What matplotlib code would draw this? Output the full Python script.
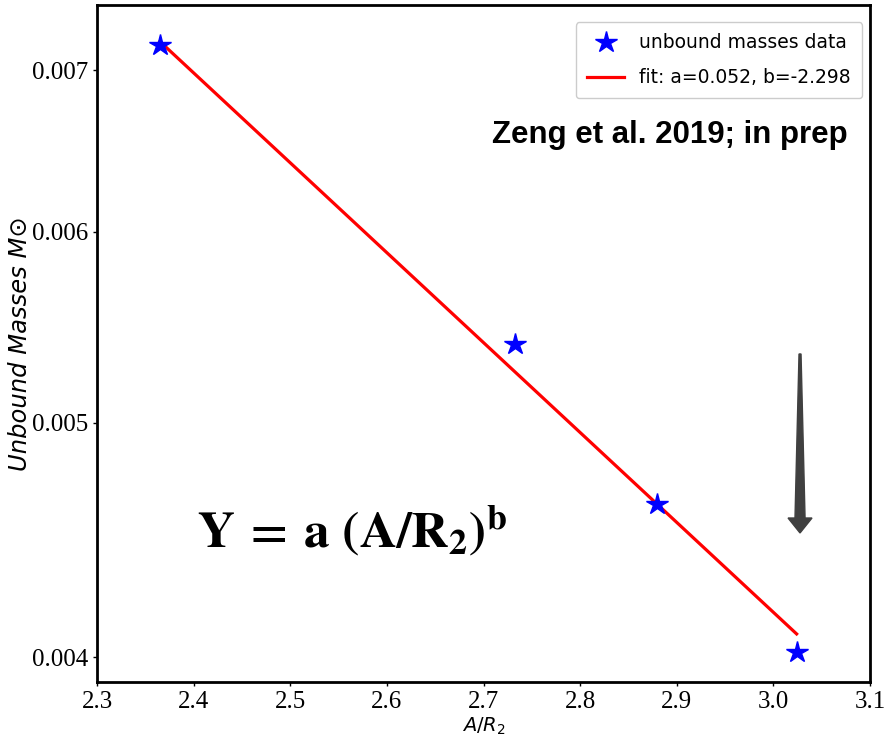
import numpy as np
import matplotlib
matplotlib.use("Agg")
from matplotlib import pyplot as plt
from matplotlib.patches import Polygon

# data
ratio = [2.365, 2.733, 2.880, 3.024]          # A/R2
unbound = [0.007169, 0.00539, 0.004628, 0.004019]  # unbound masses (Msun)
fit_a = 0.052
fit_b = -2.298
xticks = [2.3, 2.4, 2.5, 2.6, 2.7, 2.8, 2.9, 3.0, 3.1]
yticks = [0.004, 0.005, 0.006, 0.007]

x = np.array(ratio)
y = np.array(unbound)
# fit drawn between the end points only (straight segment, like the original)
x_line = np.array([ratio[0], ratio[-1]])
y_line = fit_a * x_line ** fit_b

fig = plt.figure(figsize=(8.87, 7.45), dpi=100)
ax = fig.add_axes([0.1094, 0.0846, 0.8715, 0.9087])

ax.plot(x, y, '*', color='blue', markersize=16, label='unbound masses data', zorder=3)
ax.plot(x_line, y_line, '-', color='red', linewidth=2.3,
        label=f'fit: a={fit_a:.3f}, b={fit_b:.3f}', zorder=2)

ax.set_yscale('log')
ax.set_xlim(2.3, 3.1)
ax.set_ylim(0.003906, 0.007448)
ax.set_xticks(xticks)
ax.set_xticklabels([f'{t:.1f}' for t in xticks], family='Liberation Serif', fontsize=18)
ax.set_yticks(yticks)
ax.set_yticklabels([f'{t:.3f}' for t in yticks], family='Liberation Serif', fontsize=18)
ax.yaxis.set_minor_locator(matplotlib.ticker.NullLocator())
ax.tick_params(length=3, width=1)
for s in ax.spines.values():
    s.set_linewidth(2)

ax.set_xlabel('$A/R_2$', fontsize=14, labelpad=2)
ax.set_ylabel('Unbound Masses M\u2299', fontsize=17.5, style='italic', labelpad=0)

ax.legend(loc='upper right', bbox_to_anchor=(0.99, 0.975), borderaxespad=0,
          fontsize=13.5, borderpad=0.6, labelspacing=0.85, handlelength=2,
          framealpha=1)

# annotations pasted on the original figure
ax.text(0.9715, 0.796, 'Zeng et al. 2019; in prep', transform=ax.transAxes,
        ha='right', va='baseline', fontsize=22.5, fontweight='bold', family='Liberation Sans')
ax.text(0.129, 0.199, r'$\mathbf{Y\:=\:a\ (A/R_2)^b}$', transform=ax.transAxes,
        ha='left', va='baseline', fontsize=37, math_fontfamily='stix')

cx = 0.9094
arrow = Polygon([[cx - 0.0013, 0.4845], [cx + 0.0013, 0.4845],
                 [cx + 0.0065, 0.2422], [cx + 0.0155, 0.2422],
                 [cx, 0.2201],
                 [cx - 0.0155, 0.2422], [cx - 0.0065, 0.2422]],
                closed=True, transform=ax.transAxes, color='#404040', zorder=4)
ax.add_patch(arrow)

# title of the original, mostly cut off at the top edge
fig.text(0.626, 1.012, '$A/R_2$', fontsize=14, ha='center', va='center')

fig.savefig('out.png', dpi=100)
